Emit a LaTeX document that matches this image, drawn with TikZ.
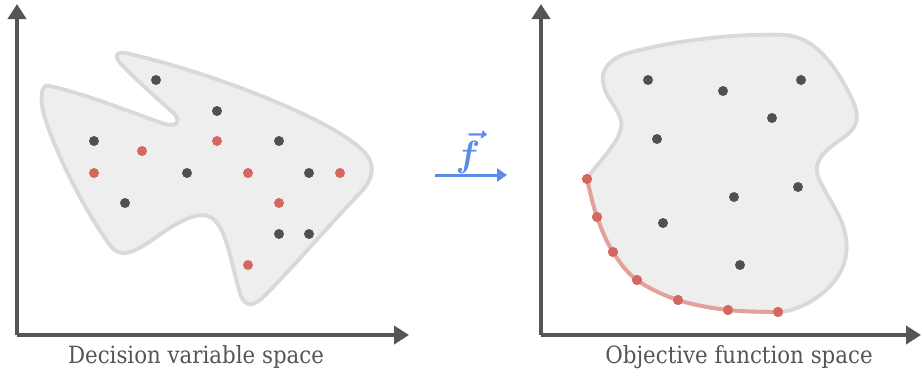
\documentclass[tikz,border=0pt]{standalone}
\usepackage{amsmath, amssymb}
\usepackage{fontspec}
\setmainfont{DejaVu Serif Condensed}
\usetikzlibrary{arrows.meta}
\definecolor{axisgray}{HTML}{555555}
\definecolor{dotgray}{HTML}{505050}
\definecolor{dotred}{HTML}{D5685E}
\definecolor{frontred}{HTML}{E3A19B}
\definecolor{blobfill}{HTML}{EEEEEE}
\definecolor{blobline}{HTML}{D9D9D9}
\definecolor{mapblue}{HTML}{5B8BE8}

\begin{document}
\begin{tikzpicture}[x=0.02cm, y=-0.02cm,
    axis/.style={draw=axisgray, line width=2.2pt, -{Triangle[length=0.3cm, width=0.36cm]}},
    blob/.style={fill=blobfill, draw=blobline, line width=2.2pt},
    sol/.style={circle, fill=dotgray, inner sep=0pt, minimum size=0.2cm},
    best/.style={circle, fill=dotred, inner sep=0pt, minimum size=0.2cm},
    caption/.style={font=\fontsize{13.5}{16}\selectfont, text=axisgray}]
  \useasboundingbox (0,0) rectangle (922,376);

  % decision variable space
  \coordinate (o1) at (17,335);
  \coordinate (x1) at (409,335);
  \coordinate (y1) at (17,4);
  \draw[blob] (50,86) .. controls (90,95) and (140,116) .. (165,124)
    .. controls (180,128) and (181,118) .. (170,110)
    .. controls (150,92) and (130,74) .. (120,63)
    .. controls (112,53) and (120,51) .. (130,54)
    .. controls (220,75) and (330,120) .. (360,148)
    .. controls (378,163) and (373,180) .. (360,193)
    .. controls (320,235) and (280,282) .. (260,300)
    .. controls (250,308) and (243,304) .. (240,293)
    .. controls (232,268) and (227,228) .. (212,218)
    .. controls (200,210) and (180,220) .. (155,238)
    .. controls (135,252) and (120,260) .. (110,245)
    .. controls (80,205) and (45,130) .. (42,105)
    .. controls (40,88) and (45,84) .. (50,86) -- cycle;
  \draw[axis] (o1) -- (x1);
  \draw[axis] (o1) -- (y1);

  \foreach \px/\py [count=\i] in {156/80, 217/111, 94/141, 279/141, 187/173,
      309/173, 125/203, 279/234, 309/234}
    \node[sol] (d\i) at (\px,\py) {};
  \foreach \px/\py [count=\i] in {142/151, 217/141, 94/173, 248/173, 340/173,
      279/203, 248/265}
    \node[best] (e\i) at (\px,\py) {};

  \node[caption] (lab1) at (196,357) {Decision variable space};

  % mapping
  \coordinate (m1) at (435,175);
  \coordinate (m2) at (507,175);
  \draw[mapblue, line width=1.7pt, -{Triangle[length=0.2cm, width=0.26cm]}] (m1) -- (m2);
  \node[text=mapblue, font=\fontsize{20}{24}\selectfont] (f) at (468,152) {$\boldsymbol{\vec{f}}$};

  % objective function space
  \coordinate (o2) at (541,335);
  \coordinate (x2) at (921,335);
  \coordinate (y2) at (541,4);
  \draw[blob] (587,179) .. controls (595,165) and (618,145) .. (621,128)
    .. controls (624,112) and (605,100) .. (603,82)
    .. controls (601,65) and (615,55) .. (640,50)
    .. controls (680,40) and (740,33) .. (785,35)
    .. controls (815,37) and (835,65) .. (850,95)
    .. controls (862,118) and (858,128) .. (840,140)
    .. controls (820,154) and (810,165) .. (822,185)
    .. controls (835,210) and (852,230) .. (845,260)
    .. controls (838,290) and (800,312) .. (778,312)
    -- plot[smooth, tension=0.6] coordinates {(778,312) (728,310) (678,300)
      (637,280) (613,252) (597,217) (587,179)} -- cycle;
  \draw[axis] (o2) -- (x2);
  \draw[axis] (o2) -- (y2);

  \foreach \px/\py [count=\i] in {648/80, 723/91, 801/80, 772/118, 657/139,
      798/187, 734/197, 663/223, 740/265}
    \node[sol] (q\i) at (\px,\py) {};
  \foreach \px/\py [count=\i] in {587/179, 597/217, 613/252, 637/280, 678/300,
      728/310, 778/312}
    \node[best] (p\i) at (\px,\py) {};
  \draw[frontred, line width=2.2pt] plot[smooth, tension=0.6] coordinates {
    (p1) (p2) (p3) (p4) (p5) (p6) (p7)};
  \foreach \i in {1,...,7}
    \node[best] at (p\i) {};

  \node[caption] (lab2) at (739,357) {Objective function space};
\end{tikzpicture}
\end{document}
